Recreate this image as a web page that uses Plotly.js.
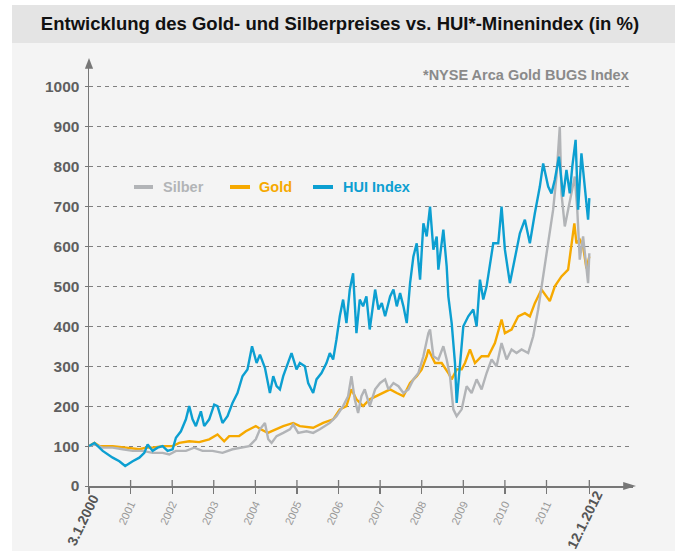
<!DOCTYPE html>
<html>
<head>
<meta charset="utf-8">
<script src="https://cdn.plot.ly/plotly-3.0.1.min.js"></script>
<style>
  html, body { margin:0; padding:0; background:#ffffff; }
  #wrap { position:relative; width:680px; height:551px; overflow:hidden; }
  #panel { position:absolute; left:12px; top:5px; width:663px; height:546px; background:#f4f4f4; }
  #band { position:absolute; left:12px; top:5px; width:663px; height:38px; background:#e4e4e4; }
  #chart { position:absolute; left:0; top:0; width:680px; height:551px; }
</style>
</head>
<body>
<div id="wrap">
  <div id="panel"></div>
  <div id="band"></div>
  <div id="chart"></div>
</div>
<script>
// ---- data: [decimal year, index value in %] (3.1.2000 = 100) ----
const seriesNames = ["Silber", "Gold", "HUI Index"];
const seriesColors = ["#b2b4b7", "#f6a900", "#0c9fd1"];

const silver = [[2000.00,100],[2000.13,104],[2000.33,96],[2000.57,96],[2000.81,92],[2001.05,88],[2001.29,88],[2001.53,83],[2001.77,83],[2001.93,79],[2002.09,88],[2002.33,88],[2002.53,96],[2002.73,88],[2002.97,88],[2003.21,83],[2003.45,92],[2003.69,96],[2003.85,100],[2004.01,117],[2004.11,142],[2004.23,158],[2004.31,117],[2004.39,108],[2004.51,125],[2004.67,133],[2004.83,142],[2004.91,154],[2005.03,133],[2005.23,137],[2005.39,133],[2005.55,142],[2005.79,158],[2005.95,175],[2006.11,200],[2006.23,225],[2006.31,275],[2006.39,217],[2006.47,183],[2006.55,225],[2006.63,242],[2006.75,200],[2006.88,242],[2007.00,258],[2007.12,267],[2007.20,242],[2007.32,258],[2007.44,250],[2007.56,233],[2007.68,242],[2007.80,267],[2007.92,283],[2008.04,325],[2008.16,383],[2008.20,392],[2008.28,325],[2008.40,317],[2008.52,350],[2008.60,317],[2008.68,275],[2008.76,192],[2008.84,175],[2008.96,192],[2009.08,250],[2009.20,233],[2009.32,267],[2009.44,242],[2009.56,283],[2009.68,317],[2009.80,300],[2009.92,358],[2010.04,317],[2010.16,342],[2010.28,333],[2010.40,342],[2010.56,333],[2010.68,375],[2010.80,442],[2010.92,525],[2011.00,575],[2011.08,625],[2011.16,692],[2011.24,775],[2011.32,900],[2011.36,733],[2011.44,650],[2011.52,692],[2011.60,733],[2011.68,775],[2011.74,692],[2011.80,567],[2011.88,625],[2011.96,542],[2012.00,508],[2012.03,583]];

const gold = [[2000.00,100],[2000.13,108],[2000.25,100],[2000.57,100],[2000.89,96],[2001.21,92],[2001.37,96],[2001.53,96],[2001.77,100],[2002.01,100],[2002.17,108],[2002.41,112],[2002.65,110],[2002.89,117],[2003.09,129],[2003.25,112],[2003.37,125],[2003.61,125],[2003.77,137],[2004.01,150],[2004.13,142],[2004.30,133],[2004.45,140],[2004.67,150],[2004.91,158],[2005.07,150],[2005.39,146],[2005.63,158],[2005.87,167],[2006.03,192],[2006.19,200],[2006.31,242],[2006.43,217],[2006.59,200],[2006.75,217],[2006.91,225],[2007.08,233],[2007.24,242],[2007.40,233],[2007.56,225],[2007.72,258],[2007.88,275],[2008.00,292],[2008.12,325],[2008.16,342],[2008.32,308],[2008.48,308],[2008.64,283],[2008.72,267],[2008.84,292],[2008.96,292],[2009.04,308],[2009.16,342],[2009.28,308],[2009.44,325],[2009.60,325],[2009.76,358],[2009.92,417],[2010.00,383],[2010.16,392],[2010.32,425],[2010.48,433],[2010.60,425],[2010.72,458],[2010.88,492],[2011.00,475],[2011.08,463],[2011.20,500],[2011.36,525],[2011.52,542],[2011.60,608],[2011.67,658],[2011.72,608],[2011.80,617],[2011.88,600],[2011.96,545],[2012.03,575]];

const hui = [[2000.00,100],[2000.13,108],[2000.33,88],[2000.57,71],[2000.73,62],[2000.87,50],[2001.05,62],[2001.21,71],[2001.33,83],[2001.41,104],[2001.53,88],[2001.65,96],[2001.77,100],[2001.89,88],[2002.01,92],[2002.09,121],[2002.21,137],[2002.33,167],[2002.41,200],[2002.49,167],[2002.57,150],[2002.69,187],[2002.77,150],[2002.89,167],[2003.01,204],[2003.09,200],[2003.21,158],[2003.33,175],[2003.45,208],[2003.57,233],[2003.69,275],[2003.81,292],[2003.92,350],[2003.95,340],[2004.03,308],[2004.11,329],[2004.23,296],[2004.35,233],[2004.43,275],[2004.51,250],[2004.59,242],[2004.67,275],[2004.75,300],[2004.87,333],[2004.99,292],[2005.07,308],[2005.19,300],[2005.27,258],[2005.39,233],[2005.47,267],[2005.59,283],[2005.71,308],[2005.79,333],[2005.87,317],[2005.95,367],[2006.03,425],[2006.11,467],[2006.19,408],[2006.27,492],[2006.35,533],[2006.43,383],[2006.51,467],[2006.59,450],[2006.67,475],[2006.75,392],[2006.88,492],[2006.96,442],[2007.04,458],[2007.12,425],[2007.24,475],[2007.32,492],[2007.40,450],[2007.48,483],[2007.56,450],[2007.64,408],[2007.72,508],[2007.80,575],[2007.88,608],[2007.96,517],[2008.04,658],[2008.12,625],[2008.20,700],[2008.28,592],[2008.36,625],[2008.40,542],[2008.52,642],[2008.60,550],[2008.64,475],[2008.72,408],[2008.80,308],[2008.84,208],[2008.92,300],[2009.00,400],[2009.12,425],[2009.24,442],[2009.32,400],[2009.40,517],[2009.48,467],[2009.56,500],[2009.72,608],[2009.84,608],[2009.92,700],[2010.00,592],[2010.12,508],[2010.24,575],[2010.36,633],[2010.48,667],[2010.60,608],[2010.72,683],[2010.84,750],[2010.92,808],[2011.04,750],[2011.12,733],[2011.20,767],[2011.30,825],[2011.40,725],[2011.48,792],[2011.56,733],[2011.62,800],[2011.70,867],[2011.76,692],[2011.84,833],[2011.92,750],[2012.00,667],[2012.03,721]];

const xTickVals = [2000.0, 2001, 2002, 2003, 2004, 2005, 2006, 2007, 2008, 2009, 2010, 2011, 2012.03];
const xTickText = ["3.1.2000", "2001", "2002", "2003", "2004", "2005", "2006", "2007", "2008", "2009", "2010", "2011", "12.1.2012"];
const yTickVals = [0, 100, 200, 300, 400, 500, 600, 700, 800, 900, 1000];

// ---- build ----
function mk(series, idx) {
  return {
    type: "scatter", mode: "lines",
    x: series.map(p => p[0]), y: series.map(p => p[1]),
    name: seriesNames[idx],
    line: { color: seriesColors[idx], width: 2.4 },
    showlegend: false, hoverinfo: "skip"
  };
}
const traces = [mk(gold, 1), mk(silver, 0), mk(hui, 2)];

const lastI = xTickText.length - 1;
// end labels (first/last) are drawn as larger annotations
const tickText = xTickText.map((t, i) => (i === 0 || i === lastI) ? "" : t);

const FONT = "Liberation Sans, Arial, Helvetica, sans-serif";

const shapes = [];
xTickVals.slice(1).forEach(v => shapes.push({
  type: "line", xref: "x", yref: "paper", ysizemode: "pixel", yanchor: 0,
  x0: v, x1: v, y0: 0, y1: 6, line: { color: "#777777", width: 1.3 }
}));
shapes.push({ type: "path", xref: "paper", yref: "paper",
  path: "M -0.0075 0.984 L 0 1.0095 L 0.0075 0.984 Z",
  fillcolor: "#777777", line: { width: 0 } });
shapes.push({ type: "path", xref: "paper", yref: "paper",
  path: "M 0.982 -0.0095 L 1.0055 0 L 0.982 0.0095 Z",
  fillcolor: "#777777", line: { width: 0 } });

const legLineX = [[0.0827, 0.1176], [0.2592, 0.2960], [0.4118, 0.4485]];
const legTextX = [0.1324, 0.3088, 0.4632];
const legY = 0.7052;
const annotations = [];
seriesNames.forEach((n, i) => {
  shapes.push({ type: "line", xref: "paper", yref: "paper",
    x0: legLineX[i][0], x1: legLineX[i][1], y0: legY, y1: legY,
    line: { color: seriesColors[i], width: 4 } });
  annotations.push({ xref: "paper", yref: "paper", x: legTextX[i], y: legY,
    xanchor: "left", yanchor: "middle", showarrow: false,
    text: "<b>" + n + "</b>", font: { family: FONT, size: 14.5, color: seriesColors[i] } });
});
annotations.push({ xref: "paper", yref: "paper", x: 0.9963, y: 0.969,
  xanchor: "right", yanchor: "middle", showarrow: false,
  text: "<b>*NYSE Arca Gold BUGS Index</b>", font: { family: FONT, size: 14.5, color: "#8a8a8a" } });
[[0, -6.5], [lastI, -5]].forEach(([i, dx]) => annotations.push({
  xref: "x", yref: "paper", x: xTickVals[i], y: 0, xshift: dx, yshift: -33.5,
  xanchor: "center", yanchor: "middle", showarrow: false, textangle: -64,
  text: "<b>" + xTickText[i] + "</b>", font: { family: FONT, size: 14, color: "#555555" } }));

const layout = {
  width: 680, height: 551,
  margin: { l: 89, r: 47, t: 62, b: 65 },
  paper_bgcolor: "rgba(0,0,0,0)", plot_bgcolor: "rgba(0,0,0,0)",
  font: { family: FONT },
  title: { text: "<b>Entwicklung des Gold- und Silberpreises vs. HUI*-Minenindex (in %)</b>",
    x: 0.5, xref: "container", xanchor: "center",
    y: 0.957, yref: "container", yanchor: "middle",
    font: { family: FONT, size: 18.5, color: "#111111" } },
  xaxis: {
    range: [2000.0, 2013.08], showgrid: false, zeroline: false,
    showline: true, linecolor: "#777777", linewidth: 1.5,
    tickmode: "array", tickvals: xTickVals, ticktext: tickText,
    ticks: "outside", ticklen: 6, tickcolor: "#777777", tickwidth: 1.3,
    tickangle: -65, tickfont: { family: FONT, size: 11, color: "#999999" }
  },
  yaxis: {
    range: [0, 1062], zeroline: false,
    showline: true, linecolor: "#777777", linewidth: 1.5,
    tickmode: "array", tickvals: yTickVals,
    ticks: "outside", ticklen: 3, tickcolor: "#777777", ticklabelstandoff: 2,
    showgrid: true, gridcolor: "#808080", gridwidth: 1, griddash: "4px,4px",
    tickfont: { family: FONT, size: 15.5, color: "#5f5f5f", weight: "bold" }
  },
  shapes: shapes, annotations: annotations, showlegend: false
};

Plotly.newPlot("chart", traces, layout, { displayModeBar: false, staticPlot: true });
</script>
</body>
</html>
